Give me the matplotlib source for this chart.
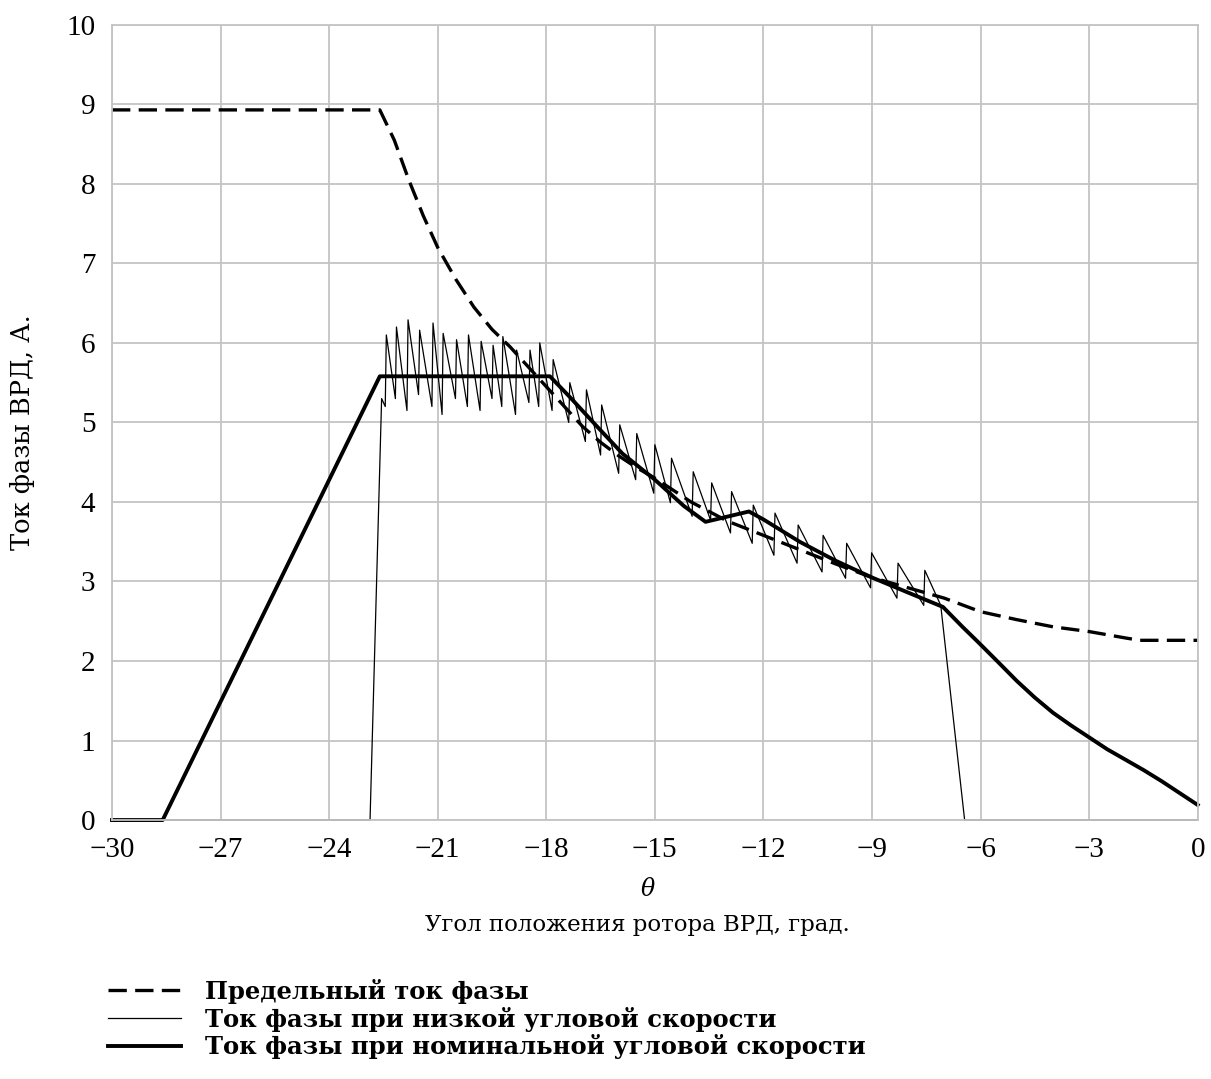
import matplotlib
matplotlib.use("Agg")
import matplotlib.pyplot as plt

plt.rcParams["font.family"] = ["DejaVu Serif"]
plt.rcParams["mathtext.fontset"] = "dejavuserif"

# предельный ток фазы (пунктир)
theta_lim = [-30.0, -22.6, -22.2, -21.8, -21.4, -21.0, -20.5, -20.0, -19.5, -19.0,
             -18.5, -18.0, -17.5, -17.0, -16.5, -16.0, -15.5, -15.0, -14.0, -13.0,
             -12.0, -11.0, -10.0, -9.0, -8.0, -7.0, -6.0, -5.0, -4.0, -3.0,
             -2.0, -1.6, 0.0]
i_lim = [8.93, 8.93, 8.55, 8.05, 7.6, 7.2, 6.8, 6.45, 6.17, 5.95,
         5.7, 5.45, 5.2, 4.95, 4.75, 4.58, 4.43, 4.3, 4.0, 3.76,
         3.58, 3.4, 3.22, 3.05, 2.92, 2.79, 2.62, 2.52, 2.43, 2.37,
         2.29, 2.26, 2.26]

# ток фазы при низкой угловой скорости (тонкая)
theta_low = [-30.0, -22.87, -22.55,
             -22.45, -22.42, -22.17, -22.14, -21.85, -21.82, -21.53, -21.50,
             -21.16, -21.13, -20.88, -20.85, -20.51, -20.48, -20.18, -20.15,
             -19.83, -19.80, -19.50, -19.47, -19.23, -19.20, -18.85, -18.82,
             -18.48, -18.45, -18.21, -18.18, -17.84, -17.81, -17.38, -17.35,
             -16.92, -16.89, -16.50, -16.47, -16.00, -15.97, -15.53, -15.50,
             -15.03, -15.00, -14.57, -14.54, -13.97, -13.94, -13.46, -13.43,
             -12.91, -12.88, -12.31, -12.28, -11.71, -11.68, -11.07, -11.04,
             -10.38, -10.35, -9.73, -9.70, -9.04, -9.01, -8.31, -8.28,
             -7.57, -7.54, -7.10, -6.44, 0.0]
i_low = [0.0, 0.0, 5.30,
         5.20, 6.10, 5.30, 6.20, 5.15, 6.29, 5.35, 6.16,
         5.20, 6.25, 5.10, 6.12, 5.30, 6.04, 5.20, 6.10,
         5.15, 6.02, 5.30, 5.97, 5.20, 6.08, 5.10, 5.91,
         5.25, 5.91, 5.20, 6.00, 5.15, 5.79, 5.00, 5.50,
         4.76, 5.41, 4.59, 5.22, 4.36, 4.97, 4.28, 4.86,
         4.11, 4.72, 3.99, 4.55, 3.82, 4.38, 3.77, 4.24,
         3.61, 4.13, 3.48, 3.96, 3.33, 3.86, 3.23, 3.71,
         3.12, 3.58, 3.04, 3.48, 2.92, 3.36, 2.79, 3.23,
         2.70, 3.14, 2.70, 0.0, 0.0]

# ток фазы при номинальной угловой скорости (толстая)
theta_nom = [-30.0, -28.6, -22.6, -17.9, -17.35, -16.6, -15.9, -15.0, -14.2, -13.6,
             -12.4, -12.0, -11.0, -10.0, -9.0, -8.0, -7.04, -6.5, -6.05, -5.5,
             -5.0, -4.5, -4.0, -3.5, -3.0, -2.5, -2.0, -1.5, -1.0, -0.5, 0.0]
i_nom = [0.0, 0.0, 5.58, 5.58, 5.32, 4.95, 4.61, 4.28, 3.95, 3.75,
         3.88, 3.78, 3.50, 3.26, 3.05, 2.86, 2.68, 2.43, 2.23, 1.98,
         1.75, 1.54, 1.35, 1.19, 1.04, 0.89, 0.76, 0.63, 0.49, 0.34, 0.19]

x_ticks = [-30, -27, -24, -21, -18, -15, -12, -9, -6, -3, 0]
y_ticks = list(range(0, 11))

fig = plt.figure(figsize=(12.11, 10.79), dpi=100)
ax = fig.add_axes([0.0925, 0.24, 0.8965, 0.737])

ax.plot(theta_lim, i_lim, color="black", lw=2.4, linestyle=(0, (5.5, 2.5)),
        label="Предельный ток фазы", clip_on=False)
ax.plot(theta_low, i_low, color="black", lw=0.9,
        label="Ток фазы при низкой угловой скорости", clip_on=False)
ax.plot(theta_nom, i_nom, color="black", lw=2.8,
        label="Ток фазы при номинальной угловой скорости", clip_on=False)

ax.set_xlim(-30, 0)
ax.set_ylim(0, 10)
ax.set_xticks(x_ticks)
ax.set_yticks(y_ticks)
ax.tick_params(length=0, pad=12)
for lbl in ax.get_xticklabels() + ax.get_yticklabels():
    lbl.set_fontfamily("Liberation Serif")
    lbl.set_fontsize(21)
ax.grid(True, color="#c4c4c4", lw=1.3)
ax.set_axisbelow(True)
for s in ax.spines.values():
    s.set_color("#c4c4c4")
    s.set_linewidth(1.3)

fig.text(648 / 1211, 1 - 890 / 1079, "$\\theta$", fontsize=17,
         ha="center", va="center")
fig.text(637 / 1211, 1 - 925 / 1079, "Угол положения ротора ВРД, град.",
         fontsize=16.5, ha="center", va="center")
fig.text(22 / 1211, 1 - 432 / 1079, "Ток фазы ВРД, А.", fontsize=18.5,
         rotation=90, ha="center", va="center")

fig.legend(loc="upper left", bbox_to_anchor=(0.081, 0.102), frameon=False,
           prop={"weight": "bold", "size": 17.5}, handlelength=3.0,
           handletextpad=1.0, labelspacing=0.12, borderaxespad=0)

fig.savefig("out.png", dpi=100)
